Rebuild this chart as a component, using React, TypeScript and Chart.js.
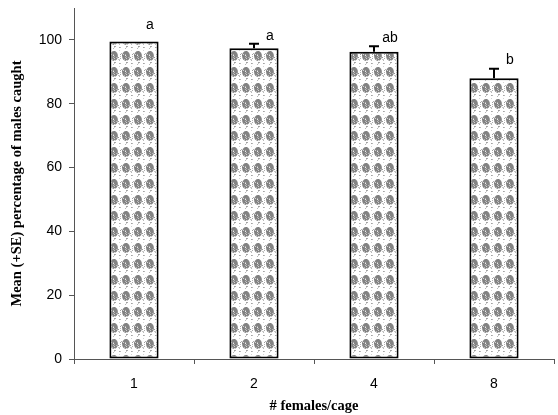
import React, { useEffect, useRef } from "react";
import { Chart, registerables } from "chart.js";

Chart.register(...registerables);

const categories = ["1", "2", "4", "8"];
const means = [99.5, 97.4, 96.3, 88.0];
const seUpper = [0.4, 1.4, 1.7, 3.0];
const letters = ["a", "a", "ab", "b"];
const yTicks = [0, 20, 40, 60, 80, 100];

function makePattern(): CanvasPattern | string {
  const w = 12;
  const h = 16;
  const c = document.createElement("canvas");
  c.width = w;
  c.height = h;
  const ctx = c.getContext("2d");
  if (!ctx) return "#ddd";
  ctx.fillStyle = "#ffffff";
  ctx.fillRect(0, 0, w, h);
  let s = 24680;
  const rnd = () => {
    s = (s * 1103515245 + 12345) & 0x7fffffff;
    return s / 0x7fffffff;
  };
  ctx.fillStyle = "rgba(120,120,120,0.92)";
  ctx.beginPath();
  ctx.ellipse(w / 2, h / 2, 3.9, 5.0, 0, 0, Math.PI * 2);
  ctx.fill();
  for (let i = 0; i < 10; i++) {
    ctx.fillStyle = "rgba(255,255,255," + (0.3 + rnd() * 0.4).toFixed(2) + ")";
    const a = rnd() * Math.PI * 2;
    const r = rnd() * 4;
    ctx.fillRect(Math.floor(w / 2 + Math.cos(a) * r * 0.9), Math.floor(h / 2 + Math.sin(a) * r * 1.1), 1, 1);
  }
  for (let i = 0; i < 22; i++) {
    ctx.fillStyle = "rgba(120,120,120," + (0.3 + rnd() * 0.5).toFixed(2) + ")";
    ctx.fillRect(Math.floor(rnd() * w), Math.floor(rnd() * h), 1, 1);
  }
  const p = ctx.createPattern(c, "repeat");
  return p || "#ddd";
}

const errorPlugin = {
  id: "errorLetters",
  afterDatasetsDraw(chart: any) {
    const ctx = chart.ctx;
    const meta = chart.getDatasetMeta(0);
    const y = chart.scales.y;
    ctx.save();
    meta.data.forEach((bar: any, i: number) => {
      const top = y.getPixelForValue(means[i]);
      const errTop = y.getPixelForValue(means[i] + seUpper[i]);
      ctx.strokeStyle = "#000";
      ctx.lineWidth = 2;
      if (seUpper[i] > 0.5) {
        ctx.beginPath();
        ctx.moveTo(bar.x, top);
        ctx.lineTo(bar.x, errTop);
        ctx.moveTo(bar.x - 5, errTop);
        ctx.lineTo(bar.x + 5, errTop);
        ctx.stroke();
      }
      ctx.fillStyle = "#000";
      ctx.font = "14px 'Liberation Sans', Arial, sans-serif";
      ctx.textAlign = "center";
      ctx.textBaseline = "bottom";
      ctx.fillText(letters[i], bar.x + 16, errTop - (seUpper[i] > 0.5 ? 1 : 8));
    });
    ctx.restore();
  },
};

export default function App() {
  const ref = useRef<HTMLCanvasElement>(null);
  useEffect(() => {
    if (!ref.current) return;
    const pattern = makePattern();
    const chart = new Chart(ref.current, {
      type: "bar",
      data: {
        labels: categories,
        datasets: [
          {
            data: means,
            backgroundColor: pattern as any,
            borderColor: "#000",
            borderWidth: 2,
            borderSkipped: false,
            categoryPercentage: 1,
            barPercentage: 0.41,
          },
        ],
      },
      options: {
        animation: false,
        responsive: false,
        layout: { padding: { top: 8, right: 4, left: 0, bottom: 0 } },
        plugins: { legend: { display: false }, tooltip: { enabled: false } },
        scales: {
          x: {
            grid: {
              display: true,
              drawOnChartArea: false,
              drawTicks: true,
              tickLength: 5,
              color: "#555",
              offset: true,
            },
            border: { display: true, color: "#555", width: 1 },
            ticks: {
              color: "#000",
              padding: 12,
              font: { family: "'Liberation Sans', Arial, sans-serif", size: 14 },
            },
            title: {
              display: true,
              text: "# females/cage",
              color: "#000",
              font: { family: "'Liberation Serif', 'Times New Roman', serif", size: 14.5, weight: "bold" },
              padding: { top: 8, bottom: 0 },
            },
            afterFit: (scale: any) => {
              scale.height = 56;
              scale.paddingLeft = 0;
              scale.paddingRight = 0;
            },
          },
          y: {
            min: 0,
            max: 110,
            afterBuildTicks: (scale: any) => {
              scale.ticks = yTicks.map((v) => ({ value: v }));
            },
            grid: {
              display: true,
              drawOnChartArea: false,
              drawTicks: true,
              tickLength: 5,
              color: "#555",
            },
            border: { display: true, color: "#555", width: 1 },
            ticks: {
              color: "#000",
              padding: 7,
              font: { family: "'Liberation Sans', Arial, sans-serif", size: 14 },
            },
            title: {
              display: true,
              text: "Mean (+SE) percentage of males caught",
              color: "#000",
              font: { family: "'Liberation Serif', 'Times New Roman', serif", size: 14.5, weight: "bold" },
              padding: { top: 9, bottom: 0 },
            },
            afterFit: (scale: any) => {
              scale.width = 74;
              scale.paddingTop = 0;
              scale.paddingBottom = 0;
            },
          },
        },
      },
      plugins: [errorPlugin],
    });
    return () => chart.destroy();
  }, []);
  return (
    <div style={{ position: "fixed", left: 0, top: 0, width: 558, height: 415, background: "#fff" }}>
      <canvas ref={ref} width={558} height={415} style={{ width: 558, height: 415 }} />
    </div>
  );
}
